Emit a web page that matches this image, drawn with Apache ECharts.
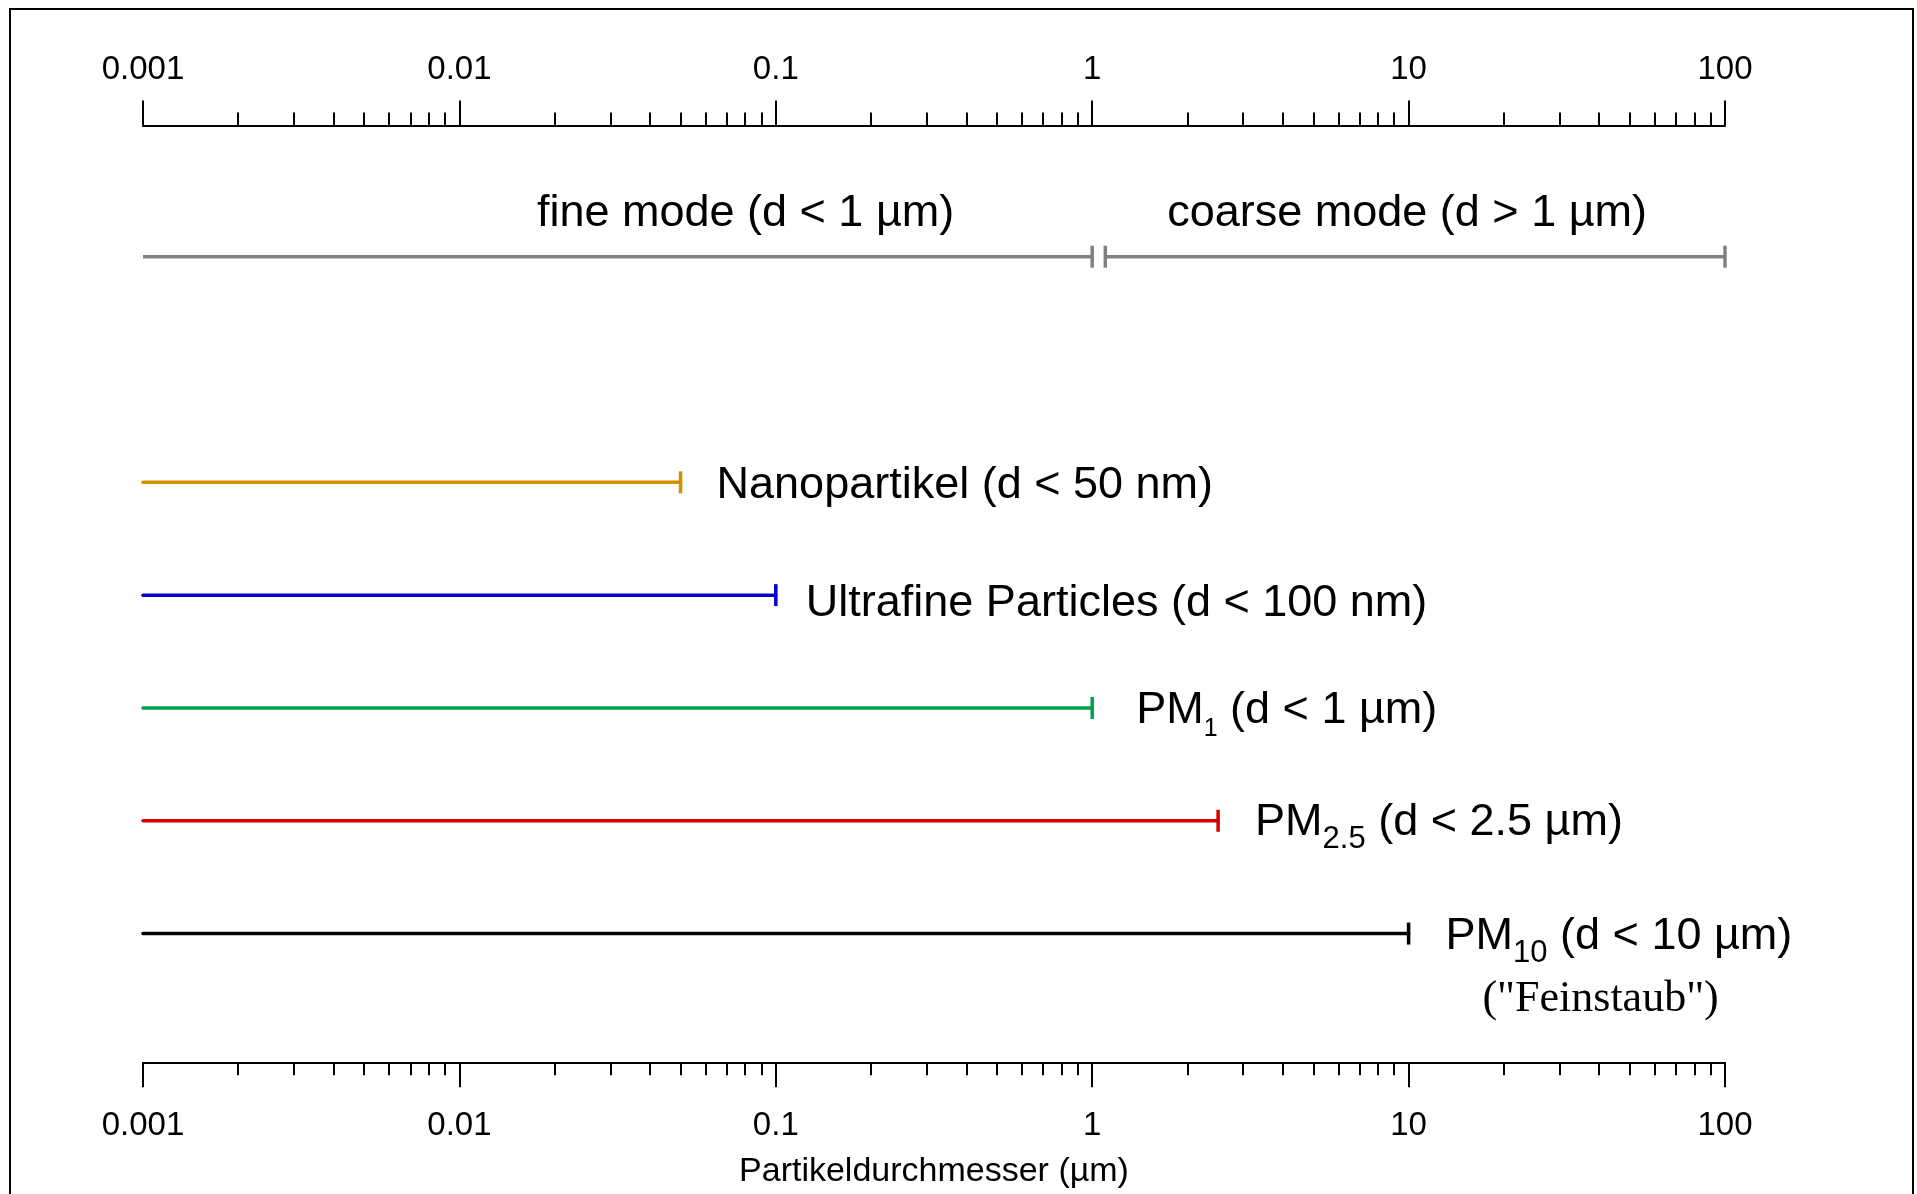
<!DOCTYPE html>
<html>
<head>
<meta charset="utf-8">
<title>Partikeldurchmesser</title>
<script src="https://cdn.jsdelivr.net/npm/echarts@6/dist/echarts.min.js"></script>
<style>
  html, body { margin: 0; padding: 0; background: #fff; }
  #chart { width: 1917px; height: 1194px; }
</style>
</head>
<body>
<div id="chart"></div>
<script>
// log axis ticks (µm)
var tickValues = [0.001, 0.01, 0.1, 1, 10, 100];
var tickLabels = ['0.001', '0.01', '0.1', '1', '10', '100'];
var minorSteps = [2, 3, 4, 5, 6, 7, 8, 9];

// fine / coarse mode ranges
var modeNames = ['fine mode (d < 1 µm)', 'coarse mode (d > 1 µm)'];
var modeFrom = [0.001, 1.1];
var modeTo = [1, 100];

// particle classes: upper diameter limit
var classNames = ['Nanopartikel', 'Ultrafine Particles', 'PM1', 'PM2.5', 'PM10'];
var classLimits = [0.05, 0.1, 1, 2.5, 10];
var classLimitText = ['50 nm', '100 nm', '1 µm', '2.5 µm', '10 µm'];
var classNotes = ['', '', '', '', '("Feinstaub")'];
var lowerEnd = 0.001;

// styles
var classColors = ['#D38E00', '#0000CC', '#00A050', '#D40000', '#000000'];
var labelGap = [36, 30, 44, 37, 37];
var labelDy = [3, 8, 3, 2, 3];
var modeLabelShift = [128, -8];
var SANS = 'Liberation Sans';
var SERIF = 'Liberation Serif';
var FS = 45;

var minorTicks = [];
for (var d = 0; d < tickValues.length - 1; d++) {
  minorSteps.forEach(function (s) {
    minorTicks.push(+(tickValues[d] * s).toPrecision(3));
  });
}

var measureCtx = document.createElement('canvas').getContext('2d');
function textWidth(str, size) {
  measureCtx.font = size + 'px "' + SANS + '"';
  return measureCtx.measureText(str).width;
}

function tickText(v) {
  for (var j = 0; j < tickValues.length; j++) {
    if (Math.abs(Math.log10(v / tickValues[j])) < 1e-6) return tickLabels[j];
  }
  return '';
}

function logAxis(pos, major) {
  var ax = {
    type: 'log',
    logBase: 10,
    position: pos,
    min: 0.001,
    max: 100,
    axisLine: { show: major, onZero: false, lineStyle: { color: '#000', width: 2 } },
    axisTick: {
      show: true,
      inside: false,
      length: major ? 25 : 13,
      customValues: major ? tickValues : minorTicks,
      lineStyle: { color: '#000', width: 2 }
    },
    axisLabel: {
      show: major,
      customValues: tickValues,
      margin: pos === 'top' ? 39 : 47,
      fontSize: 33,
      fontFamily: SANS,
      color: '#000',
      formatter: tickText
    },
    splitLine: { show: false },
    axisPointer: { show: false }
  };
  if (major && pos === 'bottom') {
    ax.name = 'Partikeldurchmesser (µm)';
    ax.nameLocation = 'middle';
    ax.nameGap = 92;
    ax.nameTextStyle = { fontSize: 34, fontFamily: SANS, color: '#000' };
  }
  return ax;
}

function txt(str, x, y, size, family) {
  return {
    type: 'text',
    style: {
      text: str, x: x, y: y, fill: '#000',
      fontSize: size, fontFamily: family || SANS,
      align: 'left', verticalAlign: 'middle'
    }
  };
}

function capLine(x, y, color) {
  return {
    type: 'line',
    shape: { x1: x, y1: y - 11, x2: x, y2: y + 11 },
    style: { stroke: color, lineWidth: 3.5 }
  };
}

function renderMode(params, api) {
  var i = params.dataIndex;
  var a = api.coord([api.value(0), api.value(2)]);
  var b = api.coord([api.value(1), api.value(2)]);
  var gray = '#808080';
  var kids = [
    { type: 'line', shape: { x1: a[0], y1: a[1], x2: b[0], y2: b[1] },
      style: { stroke: gray, lineWidth: 3.5 } },
    capLine(b[0], b[1], gray)
  ];
  if (api.value(0) > lowerEnd) kids.push(capLine(a[0], a[1], gray));
  kids.push({
    type: 'text',
    style: {
      text: modeNames[i],
      x: (a[0] + b[0]) / 2 + modeLabelShift[i],
      y: a[1] - 43,
      fill: '#000',
      fontSize: FS,
      fontFamily: SANS,
      align: 'center',
      verticalAlign: 'middle'
    }
  });
  return { type: 'group', children: kids };
}

function renderClass(params, api) {
  var i = params.dataIndex;
  var a = api.coord([api.value(0), api.value(2)]);
  var b = api.coord([api.value(1), api.value(2)]);
  var c = classColors[i];
  var kids = [
    { type: 'line', shape: { x1: a[0], y1: a[1], x2: b[0], y2: b[1] },
      style: { stroke: c, lineWidth: 3.5, lineCap: 'round' } },
    capLine(b[0], b[1], c)
  ];
  var x = b[0] + labelGap[i];
  var y = b[1] + labelDy[i];
  var name = classNames[i];
  var tail = ' (d < ' + classLimitText[i] + ')';
  if (name.indexOf('PM') === 0) {
    // PM with subscript
    var sub = name.slice(2);
    var subSize = sub.length === 1 ? 25 : 31;
    kids.push(txt('PM', x, y, FS));
    x += textWidth('PM', FS);
    kids.push(txt(sub, x, y + 11.5 + 0.35 * (FS - subSize), subSize));
    x += textWidth(sub, subSize);
    kids.push(txt(tail, x, y, FS));
  } else {
    kids.push(txt(name + tail, x, y, FS));
  }
  if (classNotes[i]) {
    var note = txt(classNotes[i], b[0] + 192, b[1] + 66, 44, SERIF);
    note.style.align = 'center';
    kids.push(note);
  }
  return { type: 'group', children: kids };
}

var chart = echarts.init(document.getElementById('chart'));

var option = {
  animation: false,
  backgroundColor: '#fff',
  graphic: [{
    type: 'rect',
    silent: true,
    z: -1,
    shape: { x: 10, y: 9, width: 1903, height: 1200 },
    style: { fill: 'none', stroke: '#000', lineWidth: 2 }
  }],
  grid: { left: 143, right: 192, top: 125.5, bottom: 131.7 },
  xAxis: [
    logAxis('top', true),
    logAxis('top', false),
    logAxis('bottom', true),
    logAxis('bottom', false)
  ],
  yAxis: { type: 'value', inverse: true, min: -1.163, max: 7.141, show: false },
  series: [
    {
      type: 'custom',
      xAxisIndex: 0,
      renderItem: renderMode,
      encode: { x: [0, 1], y: 2 },
      data: modeFrom.map(function (f, i) { return [f, modeTo[i], 0]; })
    },
    {
      type: 'custom',
      xAxisIndex: 0,
      renderItem: renderClass,
      encode: { x: [0, 1], y: 2 },
      data: classLimits.map(function (l, i) { return [lowerEnd, l, i + 2]; })
    }
  ]
};

chart.setOption(option);
window.addEventListener('resize', function () {
  chart.resize();
});
</script>
</body>
</html>
